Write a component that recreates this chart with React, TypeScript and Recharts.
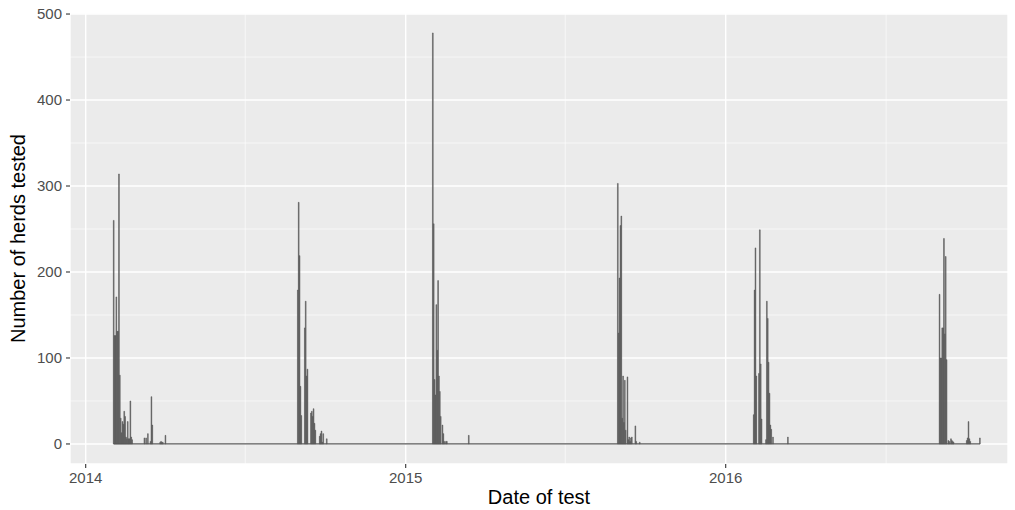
import { ComposedChart, Bar, XAxis, YAxis, CartesianGrid, ReferenceLine, Label } from "recharts"

// daily number of herds tested, one array per testing season (starting at the given date)
const spring2014Start = "2014-02-02"
const spring2014Counts = [
  260, 126, 126, 171, 131, 131, 314, 80, 30, 13, 26, 23, 38, 32, 8, 6, 26, 6, 6, 50, 8, 5,
  0, 0, 0, 0, 0, 0, 0, 0, 0, 0, 0, 0, 0,
  7, 0, 7, 0, 12, 0, 0, 3, 55, 22, 0, 0, 0, 0, 0, 0, 0, 0, 2, 3, 2, 2, 0, 0, 10,
]

const autumn2014Start = "2014-08-31"
const autumn2014Counts = [
  179, 281, 219, 67, 33, 0, 0, 0, 135, 166, 79, 87, 0, 0, 0,
  36, 38, 32, 41, 24, 16, 0, 0, 0, 0, 9, 12, 15, 2, 12, 0, 0, 0, 6,
]

const spring2015Start = "2015-02-01"
const spring2015Counts = [
  478, 256, 75, 57, 162, 109, 190, 79, 61, 32, 0, 22, 12, 3, 0, 3, 3,
  0, 0, 0, 0, 0, 0, 0, 0, 0, 0, 0, 0, 0, 0, 0, 0, 0, 0, 0, 0, 0, 0, 0, 0,
  10,
]

const autumn2015Start = "2015-08-31"
const autumn2015Counts = [
  303, 129, 193, 254, 265, 30, 79, 25, 74, 16, 0, 78, 5, 8, 3, 7, 8,
  0, 0, 0, 21, 3, 0, 0, 0, 2,
]

const spring2016Start = "2016-02-02"
const spring2016Counts = [
  34, 179, 228, 79, 0, 0, 82, 249, 93, 29, 0, 0, 0, 0, 5, 166, 146, 95, 59, 22, 17, 0, 8,
  0, 0, 0, 0, 0, 0, 0, 0, 0, 0, 0, 0, 0, 0, 0, 0,
  8,
]

const autumn2016Start = "2016-09-01"
const autumn2016Counts = [
  174, 100, 100, 135, 135, 239, 128, 218, 98, 0, 4, 3, 0, 6, 4, 3, 2,
  0, 0, 0, 0, 0, 0, 0, 0, 0, 0, 0, 0, 0, 0,
  4, 7, 26, 6, 3, 0, 0, 0, 0, 0, 0, 0, 0, 0, 0, 7,
]

const yearDates = ["2014-01-01", "2015-01-01", "2016-01-01"]
const yearLabels = ["2014", "2015", "2016"]
const midYearDates = ["2014-07-02", "2015-07-02", "2016-07-02"]
const countTicks = [0, 100, 200, 300, 400, 500]
const countMinorTicks = [50, 150, 250, 350, 450]

const ORIGIN = Date.UTC(2014, 0, 1)
const toDay = (iso: string) => (Date.parse(iso) - ORIGIN) / 86400000

const seasons: [string, number[]][] = [
  [spring2014Start, spring2014Counts],
  [autumn2014Start, autumn2014Counts],
  [spring2015Start, spring2015Counts],
  [autumn2015Start, autumn2015Counts],
  [spring2016Start, spring2016Counts],
  [autumn2016Start, autumn2016Counts],
]

const data = seasons.flatMap(([start, counts]) =>
  counts.map((count, i) => ({ day: toDay(start) + i, count }))
)

const firstDay = data[0].day
const lastDay = data[data.length - 1].day
const yearTicks = yearDates.map(toDay)
const midYearTicks = midYearDates.map(toDay)

const FONT = '"Liberation Sans", Arial, sans-serif'

function YTitle({ viewBox }: any) {
  const cx = viewBox.x + 18
  const cy = viewBox.y + viewBox.height / 2
  return (
    <text x={cx} y={cy} transform={`rotate(-90 ${cx} ${cy})`} textAnchor="middle"
      dominantBaseline="central" fontSize={20} fill="#000" fontFamily={FONT}>
      Number of herds tested
    </text>
  )
}

function XTitle({ viewBox }: any) {
  const cx = viewBox.x + viewBox.width / 2
  return (
    <text x={cx} y={viewBox.y + 33} textAnchor="middle" dominantBaseline="central"
      fontSize={20} fill="#000" fontFamily={FONT}>
      Date of test
    </text>
  )
}

export default function App() {
  return (
    <div style={{ position: "absolute", left: 0, top: 0, width: 1015, height: 510, background: "#fff" }}>
      <ComposedChart width={1015} height={510} data={data}
        margin={{ top: 13, right: 7, bottom: 0, left: 0 }}
        style={{ fontFamily: FONT }}>
        <CartesianGrid fill="#EBEBEB" stroke="#FFFFFF" strokeWidth={1.4} />
        <CartesianGrid stroke="#FFFFFF" strokeWidth={0.6}
          horizontalValues={countMinorTicks} verticalValues={midYearTicks} />
        <XAxis type="number" dataKey="day" domain={[-17.9, 1052]} allowDataOverflow
          ticks={yearTicks} interval={0} height={46}
          tickFormatter={(d: number) => yearLabels[yearTicks.indexOf(d)]}
          axisLine={false} tickSize={4} tickMargin={4}
          tickLine={{ stroke: "#333333", strokeWidth: 1.1 }}
          tick={{ fill: "#4D4D4D", fontSize: 15 }}>
          <Label content={<XTitle />} />
        </XAxis>
        <YAxis type="number" domain={[-23.3, 501.2]} allowDataOverflow
          ticks={countTicks} interval={0} width={70}
          axisLine={false} tickSize={4} tickMargin={4}
          tickLine={{ stroke: "#333333", strokeWidth: 1.1 }}
          tick={{ fill: "#4D4D4D", fontSize: 15 }}>
          <Label content={<YTitle />} />
        </YAxis>
        <ReferenceLine segment={[{ x: firstDay, y: 0 }, { x: lastDay, y: 0 }]}
          stroke="#595959" strokeWidth={1.2} />
        <Bar dataKey="count" fill="#595959" stroke="#595959" strokeWidth={0.5}
          barSize={1} isAnimationActive={false} />
      </ComposedChart>
    </div>
  )
}
